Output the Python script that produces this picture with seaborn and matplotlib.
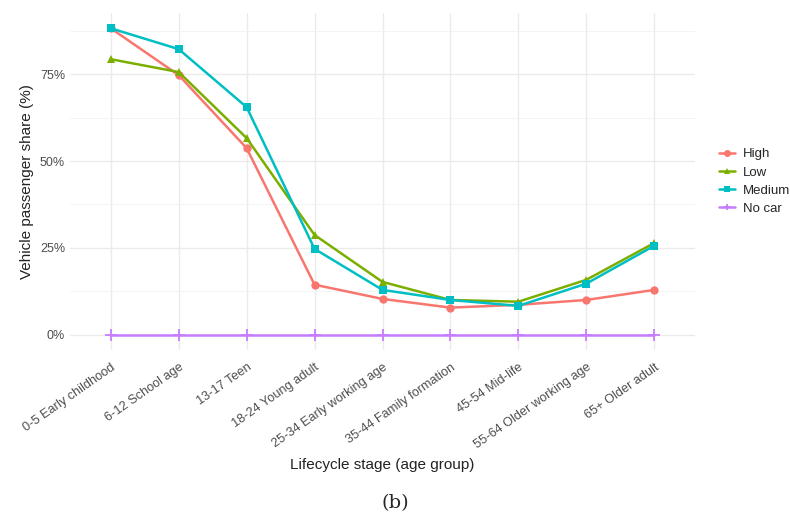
import matplotlib
matplotlib.use("Agg")
import matplotlib.pyplot as plt
import seaborn as sns
import pandas as pd
from matplotlib.ticker import FuncFormatter, MultipleLocator

stages = ["0-5 Early childhood", "6-12 School age", "13-17 Teen", "18-24 Young adult",
          "25-34 Early working age", "35-44 Family formation", "45-54 Mid-life",
          "55-64 Older working age", "65+ Older adult"]
groups = ["High", "Low", "Medium", "No car"]
high = [88.2, 74.7, 53.7, 14.4, 10.3, 7.8, 8.6, 10.0, 12.9]
low = [79.3, 75.6, 56.6, 28.7, 15.2, 10.0, 9.5, 15.8, 26.4]
medium = [88.2, 82.2, 65.5, 24.7, 12.9, 10.0, 8.3, 14.7, 25.6]
nocar = [0, 0, 0, 0, 0, 0, 0, 0, 0]
colors = ["#F8766D", "#7CAE00", "#00BFC4", "#C77CFF"]

rows = []
for g, vals in zip(groups, [high, low, medium, nocar]):
    for i, v in enumerate(vals):
        rows.append({"pos": i, "share": v, "group": g})
df = pd.DataFrame(rows)

sns.set_theme(style="whitegrid")
plt.rcParams["font.family"] = ["Liberation Sans", "DejaVu Sans"]

fig = plt.figure(figsize=(7.9, 5.17), dpi=100)
ax = fig.add_axes([70/790, 1-350/517, 625/790, 337/517])
sns.lineplot(data=df, x="pos", y="share", hue="group", style="group",
             hue_order=groups, style_order=groups,
             palette=colors, markers={"High": "o", "Low": "^", "Medium": "s", "No car": "P"},
             dashes=False, markersize=6, linewidth=1.8, markeredgewidth=0, ax=ax)

# turn the No car marker into a thin plus
for line in ax.get_lines():
    if line.get_marker() == "P":
        line.set_marker("+")
        line.set_markeredgecolor(line.get_color())
        line.set_markeredgewidth(1.3)
        line.set_markersize(8)

ax.set_xlim(-0.6, 8.6)
ax.set_ylim(-4.4, 92.6)
ax.set_xticks(range(len(stages)))
ax.set_xticklabels(stages, rotation=35, ha="right", rotation_mode="anchor",
                   fontsize=9.2, color="#4D4D4D")
ax.yaxis.set_major_locator(MultipleLocator(25))
ax.yaxis.set_minor_locator(MultipleLocator(12.5))
ax.yaxis.set_major_formatter(FuncFormatter(lambda v, p: f"{v:.0f}%"))
ax.tick_params(axis="y", labelsize=9, labelcolor="#4D4D4D", length=0)
ax.tick_params(axis="x", length=0, pad=8)
ax.grid(True, which="major", color="#EBEBEB", linewidth=1.0)
ax.grid(True, which="minor", axis="y", color="#F2F2F2", linewidth=0.6)
for s in ax.spines.values():
    s.set_visible(False)
ax.set_facecolor("white")
ax.set_xlabel("Lifecycle stage (age group)", fontsize=11, color="#222222", labelpad=5)
ax.set_ylabel("Vehicle passenger share (%)", fontsize=11, color="#222222", labelpad=4)

handles, labels = ax.get_legend_handles_labels()
for h in handles:
    h.set_markersize(5)
    if h.get_marker() == "P":
        h.set_marker("+")
        h.set_markeredgecolor(h.get_color())
        h.set_markeredgewidth(1.2)
        h.set_markersize(8)
ax.legend(handles=handles, labels=labels, loc="center left", bbox_to_anchor=(1.02, 0.5),
          frameon=False, fontsize=9.5, handlelength=1.2, handletextpad=0.6,
          labelspacing=0.45, title=None)

fig.text(0.5, 1-503/517, "(b)", ha="center", va="center", fontsize=14,
         family=["DejaVu Serif"])
fig.savefig("out.png", dpi=100)
